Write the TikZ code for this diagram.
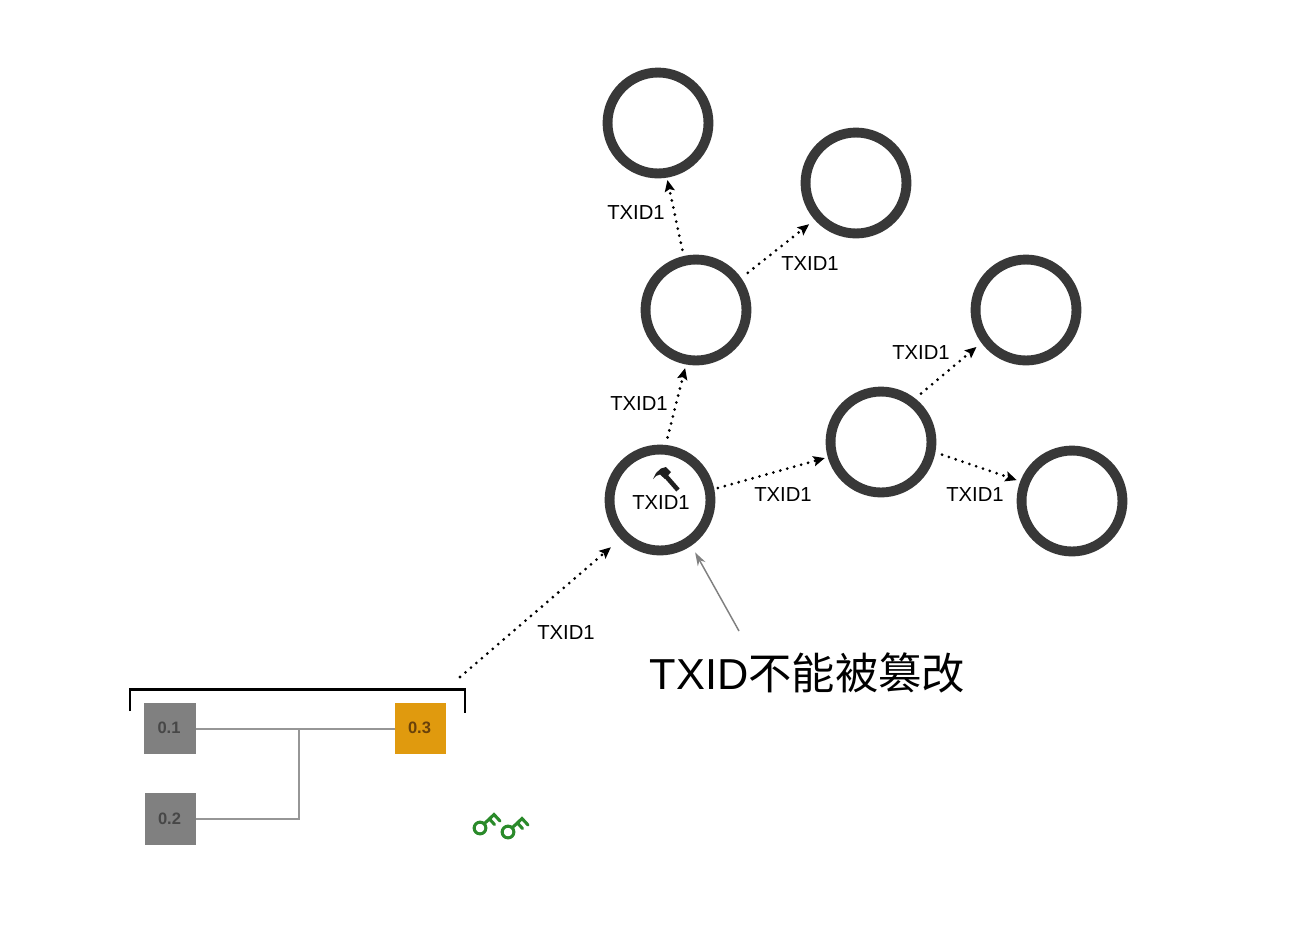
\documentclass[tikz,border=0pt]{standalone}
\usepackage{fontspec}
\setmainfont{Liberation Sans}
\newfontfamily\cjkfont{Noto Sans CJK SC}
\usetikzlibrary{arrows.meta}
\definecolor{ringc}{HTML}{383838}
\definecolor{sqgray}{HTML}{808080}
\definecolor{sqorange}{HTML}{E09A0E}
\definecolor{linkgray}{HTML}{969696}
\definecolor{keygreen}{HTML}{2A8A2A}
\tikzset{
  txnode/.style={circle,draw=ringc,line width=7.4pt,minimum size=75.7pt,inner sep=0pt,outer sep=0pt,fill=white},
  txlink/.style={line width=2.3pt,line cap=round,dash pattern=on 0pt off 5.4pt,-{Stealth[length=8.5pt,width=7.5pt,inset=1.5pt]}},
  txtag/.style={font=\fontsize{15.2}{18}\selectfont,inner sep=0pt,text=black},
  sq/.style={minimum size=38.5pt,inner sep=0pt,outer sep=0pt,fill=sqgray,font=\fontsize{12.4}{15}\selectfont\bfseries,text=black!72},
  sqlink/.style={draw=linkgray,line width=1.5pt},
  keyline/.style={draw=keygreen,line width=2.3pt,line cap=round}
}
\begin{document}
\begin{tikzpicture}[x=0.75pt,y=-0.75pt]
\useasboundingbox (0,0) rectangle (1308,940);
\fill[white] (0,0) rectangle (1308,940);
% transaction circles
\node[txnode] (a) at (660,500) {};
\node[txnode] (b) at (696,310) {};
\node[txnode] (t) at (658,123) {};
\node[txnode] (r) at (856,183) {};
\node[txnode] (c) at (881,442) {};
\node[txnode] (d) at (1026,310) {};
\node[txnode] (e) at (1072,501) {};
% dotted links
\draw[txlink,shorten <=9.5pt,shorten >=6.5pt] (a.85) -- (b.260);
\draw[txlink,shorten <=8.5pt,shorten >=5.5pt] (b.103) -- (t.279);
\draw[txlink,shorten <=10pt,shorten >=9pt] (b.35) -- (r.222);
\draw[txlink,shorten <=6.5pt,shorten >=6pt] (a.11) -- (c.196);
\draw[txlink,shorten <=9.5pt,shorten >=8.5pt] (c.53) -- (d.216);
\draw[txlink,shorten <=9pt,shorten >=6.5pt] (c.-10) -- (e.159);
\coordinate (brk) at (460,677);
\draw[txlink,shorten >=13.3pt] (brk) -- (a.225);
% labels
\node[txtag] (l1) at (636,212.5) {TXID1};
\node[txtag] (l2) at (810,263.5) {TXID1};
\node[txtag] (l3) at (639,403.5) {TXID1};
\node[txtag] (l4) at (921,352.5) {TXID1};
\node[txtag] (l5) at (783,494.5) {TXID1};
\node[txtag] (l6) at (975,494.5) {TXID1};
\node[txtag] (l7) at (566,632.5) {TXID1};
\node[txtag] (l8) at (661,502.5) {TXID1};
% hammer
\draw[line width=3.4pt,black!88] (664,474) -- (678,490);
\fill[black!88] (653,479) -- (656,473) -- (661,468.5) -- (666,467) -- (671,472) -- (665,479) -- (660,474.5) -- (656,476) -- cycle;
% caption
\node[font=\fontsize{32.5}{38}\selectfont,inner sep=0pt] (cap) at (807.5,673) {TXID{\cjkfont 不能被篡改}};
\coordinate (capa) at (739,631);
\draw[draw=linkgray!85!black,line width=1.1pt,-{Stealth[length=10pt,width=6.5pt]},shorten >=9.5pt] (capa) -- (a.305);
% bracket
\draw[line width=2.1pt,black] (130,711) -- (130,689.5) -- (465,689.5) -- (465,713);
% squares
\node[sq] (s1) at (170,728.5) {\raisebox{1.2pt}{0.1\kern1.5pt}};
\node[sq] (s2) at (170.5,819) {\raisebox{0.8pt}{0.2\kern1.5pt}};
\node[sq,fill=sqorange,text={rgb,255:red,105;green,65;blue,10}] (s3) at (420.5,728.5) {\raisebox{0.8pt}{0.3\kern1.5pt}};
\coordinate (j) at (299,729);
\draw[sqlink] (s1.east) -- (s3.west);
\draw[sqlink] (s2.east) -| (j);
% keys
\foreach \kx/\ky in {480/828,508/832}{
  \draw[keyline] (\kx,\ky) circle[radius=4.4pt];
  \draw[keyline] (\kx+5,\ky-5) -- (\kx+14,\ky-13.5) -- (\kx+20,\ky-7);
  \draw[keyline] (\kx+9.5,\ky-9) -- (\kx+14.5,\ky-3.5);
}
\end{tikzpicture}
\end{document}
